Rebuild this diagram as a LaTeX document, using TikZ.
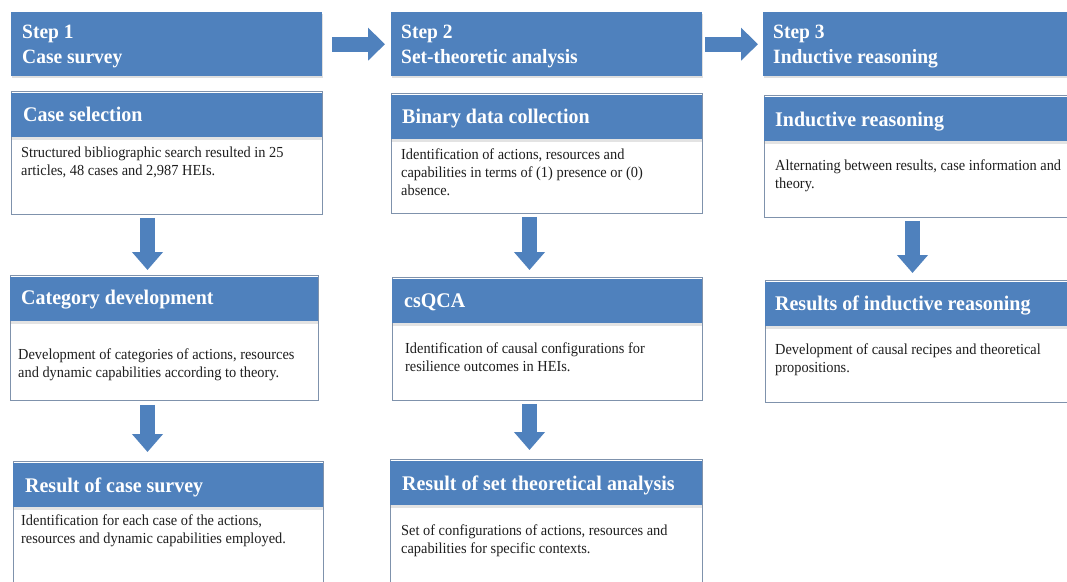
\documentclass[tikz,border=0pt]{standalone}
\usepackage{fontspec}
\setmainfont{Liberation Serif}
\newfontfamily\bodyfont[FakeStretch=0.94]{Liberation Serif}
\newfontfamily\headfont[FakeStretch=0.96]{Liberation Serif}
\usetikzlibrary{arrows.meta,shadows}
\definecolor{stepblue}{HTML}{4F81BD}
\definecolor{cardline}{HTML}{7F92AC}
\definecolor{bodyink}{HTML}{1E1E1E}
\newcommand{\lines}[1]{\parbox[t]{300pt}{\raggedright #1}}
\begin{document}
\begin{tikzpicture}[x=1pt,y=-1pt,
  stephead/.style={fill=stepblue, anchor=north west, inner sep=0pt,
    minimum width=311pt, minimum height=64pt,
    drop shadow={shadow xshift=1pt, shadow yshift=-2pt, opacity=.25}},
  steptxt/.style={anchor=base west, inner sep=0pt, text=white,
    font=\headfont\fontsize{20.3}{25}\selectfont\bfseries},
  card/.style={draw=cardline, line width=0.8pt, fill=white, anchor=north west,
    inner sep=0pt, minimum width=311pt},
  band/.style={fill=stepblue, anchor=north west, inner sep=0pt,
    minimum height=44pt, minimum width=311pt,
    drop shadow={shadow xshift=0pt, shadow yshift=-2.5pt, opacity=.22}},
  ttl/.style={anchor=base west, inner sep=0pt, text=white,
    font=\headfont\fontsize{20.8}{24}\selectfont\bfseries},
  bodytxt/.style={anchor=base west, inner sep=0pt, text=bodyink,
    font=\bodyfont\fontsize{15.3}{18}\selectfont},
  downarr/.style={draw=stepblue, line width=15pt,
    -{Triangle[width=30pt,length=18pt]}},
  rightarr/.style={draw=stepblue, line width=15pt,
    -{Triangle[width=32pt,length=17pt]}}
]
\useasboundingbox (0,0) rectangle (1067,581);
\clip (0,0) rectangle (1067,581);
\fill[white] (0,0) rectangle (1067,581);

% ---- step headers
\node[stephead] (s1) at (11,12) {};
\node[stephead] (s2) at (391,12) {};
\node[stephead, minimum width=320pt] (s3) at (763,12) {};
\node[steptxt] (s1t) at (22,38) {\lines{Step 1\\Case survey}};
\node[steptxt] (s2t) at (401,38) {\lines{Step 2\\Set-theoretic analysis}};
\node[steptxt] (s3t) at (773,38) {\lines{Step 3\\Inductive reasoning}};

% ---- column 1
\node[card, minimum height=123pt] (cs) at (11,91) {};
\node[band] (csb) at (11,93) {};
\node[ttl] (cst) at (23,121) {Case selection};
\node[bodytxt] (csx) at (21,157) {\lines{Structured bibliographic search resulted in 25\\articles, 48 cases and 2,987 HEIs.}};

\node[card, minimum width=308pt, minimum height=125pt] (cd) at (10,275) {};
\node[band, minimum width=308pt] (cdb) at (10,277) {};
\node[ttl] (cdt) at (21,304) {Category development};
\node[bodytxt] (cdx) at (18,359) {\lines{Development of categories of actions, resources\\and dynamic capabilities according to theory.}};

\node[card, minimum width=310pt, minimum height=150pt] (rc) at (13,461) {};
\node[band, minimum width=310pt] (rcb) at (13,463) {};
\node[ttl] (rct) at (25,492) {Result of case survey};
\node[bodytxt] (rcx) at (21,525) {\lines{Identification for each case of the actions,\\resources and dynamic capabilities employed.}};

% ---- column 2
\node[card, minimum height=120pt] (bd) at (391,93) {};
\node[band] (bdb) at (391,95) {};
\node[ttl] (bdt) at (402,123) {Binary data collection};
\node[bodytxt] (bdx) at (401,159) {\lines{Identification of actions, resources and\\capabilities in terms of (1) presence or (0)\\absence.}};

\node[card, minimum width=310pt, minimum height=123pt] (cq) at (392,277) {};
\node[band, minimum width=310pt] (cqb) at (392,279) {};
\node[ttl] (cqt) at (404,307) {csQCA};
\node[bodytxt] (cqx) at (405,353) {\lines{Identification of causal configurations for\\resilience outcomes in HEIs.}};

\node[card, minimum width=312pt, minimum height=150pt] (rs) at (390,459) {};
\node[band, minimum width=312pt] (rsb) at (390,461) {};
\node[ttl] (rst) at (402,490) {Result of set theoretical analysis};
\node[bodytxt] (rsx) at (401,535) {\lines{Set of configurations of actions, resources and\\capabilities for specific contexts.}};

% ---- column 3
\node[card, minimum width=320pt, minimum height=122pt] (ir) at (764,95) {};
\node[band, minimum width=320pt] (irb) at (764,97) {};
\node[ttl] (irt) at (775,126) {Inductive reasoning};
\node[bodytxt] (irx) at (775,170) {\lines{Alternating between results, case information and\\theory.}};

\node[card, minimum width=320pt, minimum height=122pt] (ri) at (765,280) {};
\node[band, minimum width=320pt] (rib) at (765,282) {};
\node[ttl] (rit) at (775,310) {Results of inductive reasoning};
\node[bodytxt] (rix) at (775,354) {\lines{Development of causal recipes and theoretical\\propositions.}};

% ---- connectors
\coordinate (c1) at (147.5,0);
\coordinate (c2) at (529.5,0);
\coordinate (c3) at (912.5,0);
\draw[rightarr, shorten <=10pt, shorten >=6pt] (s1.east) -- (s2.west);
\draw[rightarr, shorten <=3pt, shorten >=5pt] (s2.east) -- (s3.west);
\draw[downarr, shorten <=3pt, shorten >=5pt] (cs.south -| c1) -- (cd.north -| c1);
\draw[downarr, shorten <=4pt, shorten >=9pt] (cd.south -| c1) -- (rc.north -| c1);
\draw[downarr, shorten <=3pt, shorten >=7pt] (bd.south -| c2) -- (cq.north -| c2);
\draw[downarr, shorten <=3pt, shorten >=9pt] (cq.south -| c2) -- (rs.north -| c2);
\draw[downarr, shorten <=3pt, shorten >=7pt] (ir.south -| c3) -- (ri.north -| c3);
\end{tikzpicture}
\end{document}
